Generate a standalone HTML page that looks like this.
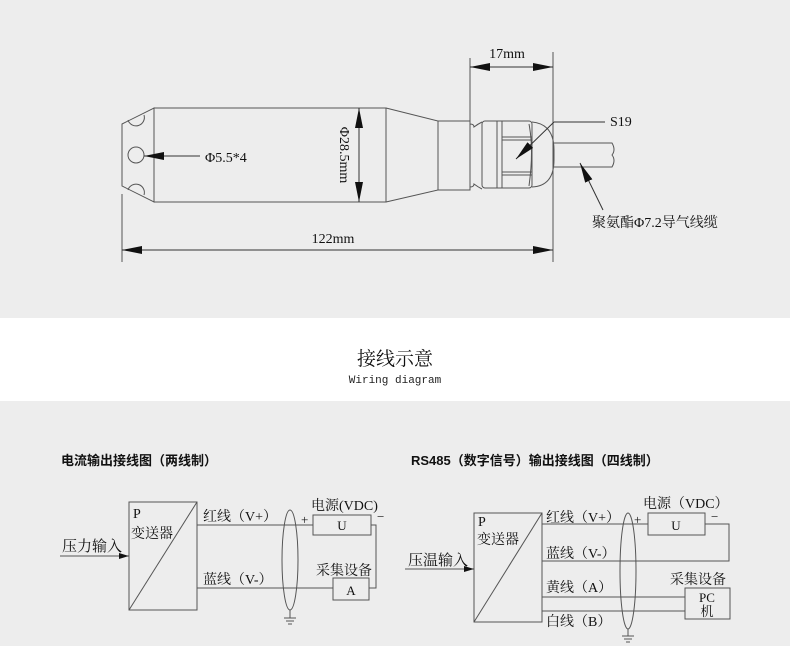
<!DOCTYPE html>
<html><head><meta charset="utf-8"><style>
html,body{margin:0;padding:0;width:790px;height:646px;overflow:hidden;background:#ededed}
svg{display:block}
.s{font-family:"Liberation Serif","Noto Serif CJK SC",serif;fill:#111}
.h{font-family:"Liberation Sans","Noto Sans CJK SC",sans-serif;fill:#111;font-weight:bold}
</style></head><body>
<svg width="790" height="646" viewBox="0 0 790 646" xmlns="http://www.w3.org/2000/svg">
<defs>
<marker id="ar" viewBox="0 0 10 6" refX="10" refY="3" markerWidth="10" markerHeight="6" markerUnits="userSpaceOnUse" orient="auto"><path d="M0,0L10,3L0,6z" fill="#111"/></marker>
<marker id="ab" viewBox="0 0 20 8" refX="20" refY="4" markerWidth="20" markerHeight="8" markerUnits="userSpaceOnUse" orient="auto-start-reverse"><path d="M0,0L20,4L0,8z" fill="#111"/></marker>
</defs>
<rect x="0" y="0" width="790" height="318" fill="#ededed"/>
<rect x="0" y="318" width="790" height="83" fill="#fff"/>
<rect x="0" y="401" width="790" height="245" fill="#ededed"/>

<g fill="none" stroke="#555" stroke-width="1">
<path d="M122,124L154,108L154,202L122,186Z"/>
<path d="M128,120A8,8 0 0 0 144,115" />
<circle cx="136" cy="155" r="8"/>
<path d="M128,190A8,8 0 0 1 144,195"/>
<rect x="154" y="108" width="232" height="94"/>
<path d="M386,108L438,121L438,190L386,202"/>
<rect x="438" y="121" width="32" height="69"/>
<path d="M470,121V190M470,124Q474,124 474,127Q478,124 482,122M470,187Q474,187 474,184Q478,187 482,189"/>
<rect x="482" y="121" width="50" height="67" rx="3"/>
<path d="M497,121V188M502,121V188M502,137H532M502,140H532M502,172H532M502,175H532"/>
<path d="M532,122Q554,124 554,150V160Q554,186 532,187"/>
<path d="M529,124Q534,150 529,186"/>
<path d="M554,143H612Q616,150 612,155Q616,160 612,167H554"/>
<path d="M470,58V121M553,52V262M122,194V262"/>
</g>
<g stroke="#333" stroke-width="1" fill="none">
<line x1="470" y1="67" x2="553" y2="67" marker-end="url(#ab)" marker-start="url(#ab)"/>
<line x1="122" y1="250" x2="553" y2="250" marker-end="url(#ab)" marker-start="url(#ab)"/>
<line x1="359" y1="108" x2="359" y2="202" marker-end="url(#ab)" marker-start="url(#ab)"/>
<line x1="200" y1="156" x2="144" y2="156" marker-end="url(#ab)"/>
<path d="M554,122H605"/>
<line x1="554" y1="122" x2="516" y2="159" marker-end="url(#ab)"/>
<line x1="603" y1="210" x2="580" y2="163" marker-end="url(#ab)"/>
</g>
<text class="s" x="507" y="58" font-size="14" text-anchor="middle">17mm</text>
<text class="s" x="610" y="126" font-size="14">S19</text>
<text class="s" x="205" y="162" font-size="14">Φ5.5*4</text>
<text class="s" x="333" y="243" font-size="14" text-anchor="middle">122mm</text>
<text class="s" x="0" y="0" font-size="14" text-anchor="middle" transform="translate(340,155) rotate(90)">Φ28.5mm</text>
<text class="s" x="592" y="227" font-size="14">聚氨酯Φ7.2导气线缆</text>

<text class="s" x="395" y="365" font-size="19" text-anchor="middle">接线示意</text>
<text x="395" y="383" font-size="11" text-anchor="middle" font-family="Liberation Mono,monospace" fill="#222">Wiring diagram</text>

<text class="h" x="61" y="465" font-size="13">电流输出接线图（两线制）</text>
<text class="h" x="411" y="465" font-size="13">RS485（数字信号）输出接线图（四线制）</text>

<g fill="none" stroke="#555" stroke-width="1">
<rect x="129" y="502" width="68" height="108"/>
<path d="M129,610L197,502"/>
<path d="M197,525H313M371,525H376V588H369M197,588H333"/>
<rect x="313" y="515" width="58" height="20"/>
<rect x="333" y="578" width="36" height="22"/>
<ellipse cx="290" cy="560" rx="8" ry="50"/>
<path d="M290,610V618M284,618H296M286,621H294M288,624H292"/>
<line x1="60" y1="556" x2="129" y2="556" marker-end="url(#ar)"/>
</g>
<text class="s" x="133" y="518" font-size="14">P</text>
<text class="s" x="131" y="538" font-size="14">变送器</text>
<text class="s" x="62" y="551" font-size="15">压力输入</text>
<text class="s" x="203" y="521" font-size="14">红线（V+）</text>
<text class="s" x="203" y="584" font-size="14">蓝线（V-）</text>
<text class="s" x="311" y="510" font-size="14">电源(VDC)</text>
<text class="s" x="342" y="530" font-size="13" text-anchor="middle">U</text>
<text class="s" x="351" y="595" font-size="13" text-anchor="middle">A</text>
<text class="s" x="301" y="524" font-size="13">+</text>
<text class="s" x="377" y="521" font-size="13">−</text>
<text class="s" x="316" y="575" font-size="14">采集设备</text>

<g fill="none" stroke="#555" stroke-width="1">
<rect x="474" y="513" width="68" height="109"/>
<path d="M474,622L542,513"/>
<path d="M542,524H648M705,524H729V561H542M542,597H685M542,611H685"/>
<rect x="648" y="513" width="57" height="22"/>
<rect x="685" y="588" width="45" height="31"/>
<ellipse cx="628" cy="571" rx="8" ry="58"/>
<path d="M628,629V636M622,636H634M624,639H632M626,642H630"/>
<line x1="405" y1="569" x2="474" y2="569" marker-end="url(#ar)"/>
</g>
<text class="s" x="478" y="526" font-size="14">P</text>
<text class="s" x="477" y="544" font-size="14">变送器</text>
<text class="s" x="408" y="565" font-size="15">压温输入</text>
<text class="s" x="546" y="522" font-size="14">红线（V+）</text>
<text class="s" x="546" y="558" font-size="14">蓝线（V-）</text>
<text class="s" x="546" y="592" font-size="14">黄线（A）</text>
<text class="s" x="546" y="626" font-size="14">白线（B）</text>
<text class="s" x="643" y="508" font-size="14">电源（VDC）</text>
<text class="s" x="676" y="530" font-size="13" text-anchor="middle">U</text>
<text class="s" x="634" y="524" font-size="13">+</text>
<text class="s" x="711" y="521" font-size="13">−</text>
<text class="s" x="670" y="584" font-size="14">采集设备</text>
<text class="s" x="707" y="602" font-size="13" text-anchor="middle">PC</text>
<text class="s" x="707" y="616" font-size="13" text-anchor="middle">机</text>
</svg>
</body></html>
